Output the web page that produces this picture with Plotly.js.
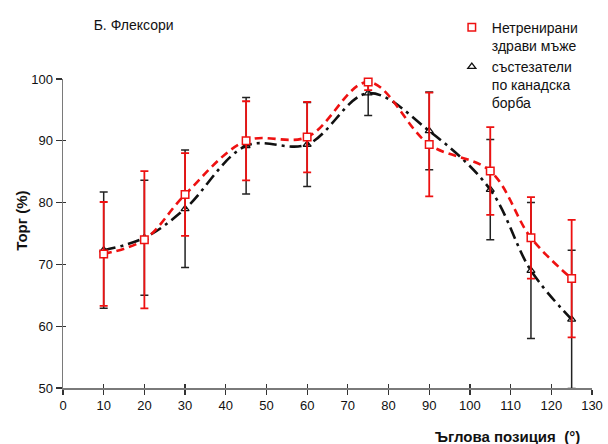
<!DOCTYPE html>
<html>
<head>
<meta charset="utf-8">
<script src="https://cdn.plot.ly/plotly-3.0.1.min.js"></script>
<style>
  html, body { margin: 0; padding: 0; background: #fff; }
  #chart { width: 608px; height: 444px; }
</style>
</head>
<body>
<div id="chart"></div>
<script>
// Angular positions (degrees)
const angles = [10, 20, 30, 45, 60, 75, 90, 105, 115, 125];

// Untrained healthy men: mean torque (%) and SD
const untrainedMean = [71.7, 74.0, 81.3, 90.0, 90.6, 99.5, 89.4, 85.1, 74.3, 67.7];
const untrainedSD   = [8.4, 11.1, 6.7, 6.4, 5.7, 1.3, 8.4, 7.1, 6.6, 9.5];

// Canoe-sprint athletes: mean torque (%) and SD
const athletesMean = [72.3, 74.3, 79.0, 89.2, 89.4, 97.7, 91.6, 82.1, 69.0, 61.1];
const athletesSD   = [9.4, 9.3, 9.5, 7.8, 6.8, 3.6, 6.3, 8.1, 11.0, 11.2];

const xTicks = [0, 10, 20, 30, 40, 50, 60, 70, 80, 90, 100, 110, 120, 130];
const yTicks = [50, 60, 70, 80, 90, 100];

const untrainedName = 'Нетренирани<br>здрави мъже';
const athletesName = 'състезатели<br>по канадска<br>борба';
const chartTitle = 'Б. Флексори';
const xTitle = 'Ъглова позиция  (°)';
const yTitle = 'Торг (%)';

const FONT = '"Liberation Sans", Arial, sans-serif';
const RED = '#ee1111';
const BLACK = '#111111';

const traces = [
  // smoothed curves
  {
    x: angles, y: athletesMean, type: 'scatter', mode: 'lines',
    line: { color: BLACK, width: 2.6, shape: 'spline', smoothing: 1, dash: '12px,5px,3px,5px' },
    showlegend: false, hoverinfo: 'skip'
  },
  {
    x: angles, y: untrainedMean, type: 'scatter', mode: 'lines',
    line: { color: RED, width: 2.6, shape: 'spline', smoothing: 1, dash: '8px,5px' },
    showlegend: false, hoverinfo: 'skip'
  },
  // means with SD bars
  {
    x: angles, y: athletesMean, type: 'scatter', mode: 'markers',
    name: athletesName, legendrank: 2, cliponaxis: false,
    marker: { symbol: 'triangle-up-open', size: 7, color: BLACK, line: { width: 1.3, color: BLACK } },
    error_y: { type: 'data', array: athletesSD, visible: true, color: '#222', thickness: 1.5, width: 4 }
  },
  {
    x: angles, y: untrainedMean, type: 'scatter', mode: 'markers',
    name: untrainedName, legendrank: 1, cliponaxis: false,
    marker: { symbol: 'square', size: 7.5, color: '#fff', line: { width: 1.5, color: RED } },
    error_y: { type: 'data', array: untrainedSD, visible: true, color: RED, thickness: 1.8, width: 4 }
  }
];

const axisCommon = {
  showgrid: false, zeroline: false, showline: true,
  linecolor: '#7a7a7a', linewidth: 1.5,
  tickcolor: '#333', tickwidth: 1.2,
  tickfont: { family: FONT, size: 13, color: '#111' }
};

const layout = {
  width: 608, height: 444,
  margin: { l: 63, r: 16, t: 77, b: 56 },
  paper_bgcolor: '#fff', plot_bgcolor: '#fff',
  font: { family: FONT, color: '#111' },
  title: {
    text: chartTitle, font: { family: FONT, size: 14, color: '#111' },
    xref: 'paper', x: 0.058, xanchor: 'left',
    yref: 'container', y: 0.944, yanchor: 'middle'
  },
  xaxis: Object.assign({}, axisCommon, {
    range: [0, 130], tickvals: xTicks, ticks: 'outside', ticklen: 5
  }),
  yaxis: Object.assign({}, axisCommon, {
    range: [50, 100], tickvals: yTicks, ticks: 'outside', ticklen: 6
  }),
  // companion axes that add the inner half of each crossing tick
  xaxis2: {
    overlaying: 'x', anchor: 'y', side: 'bottom', range: [0, 130], tickvals: xTicks,
    ticks: 'inside', ticklen: 4, tickcolor: '#333', tickwidth: 1.2,
    showticklabels: false, showgrid: false, zeroline: false, showline: false
  },
  yaxis2: {
    overlaying: 'y', anchor: 'x', side: 'left', range: [50, 100], tickvals: yTicks,
    ticks: 'inside', ticklen: 3, tickcolor: '#333', tickwidth: 1.2,
    showticklabels: false, showgrid: false, zeroline: false, showline: false
  },
  showlegend: true,
  legend: {
    x: 0.735, xanchor: 'left', y: 1.218, yanchor: 'top',
    font: { family: FONT, size: 14, color: '#111' },
    bgcolor: 'rgba(0,0,0,0)', valign: 'top', tracegroupgap: 4,
    itemclick: false, itemdoubleclick: false
  },
  annotations: [
    {
      text: '<b>' + yTitle + '</b>', textangle: -90, showarrow: false,
      xref: 'paper', yref: 'paper', x: -0.08, y: 0.54, xanchor: 'center', yanchor: 'middle',
      font: { family: FONT, size: 15, color: '#111' }
    },
    {
      text: '<b>' + xTitle + '</b>', showarrow: false,
      xref: 'paper', yref: 'paper', x: 0.981, y: -0.1576, xanchor: 'right', yanchor: 'middle',
      font: { family: FONT, size: 15, color: '#111' }
    }
  ]
};

// an invisible trace on the companion axes so they are drawn
traces.push({
  x: [0], y: [50], xaxis: 'x2', yaxis: 'y2', type: 'scatter', mode: 'markers',
  marker: { opacity: 0 }, showlegend: false, hoverinfo: 'skip'
});

Plotly.newPlot('chart', traces, layout, { displayModeBar: false, staticPlot: true });
</script>
</body>
</html>
